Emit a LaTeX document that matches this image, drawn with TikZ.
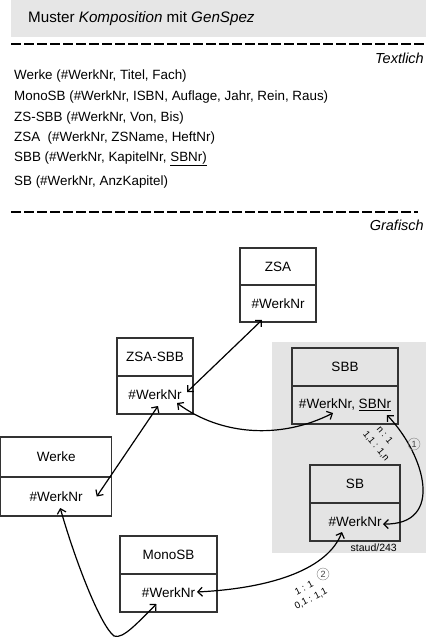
\documentclass[tikz,border=0pt]{standalone}
\usepackage{fontspec}
\setmainfont{Liberation Sans}
\usetikzlibrary{arrows.meta,calc}
\definecolor{boxline}{HTML}{333333}
\definecolor{panel}{HTML}{E4E4E4}
\definecolor{titlegray}{HTML}{E6E6E6}
\begin{document}
\begin{tikzpicture}[x=1pt,y=-1pt,
  ent/.style={draw=boxline, line width=1.3pt, rectangle, inner sep=0pt, outer sep=0pt, anchor=north west, font=\fontsize{13.5}{16}\selectfont, fill=white},
  entb/.style={ent, line width=2.2pt, fill=panel},
  lst/.style={anchor=base west, font=\fontsize{13.4}{15}\selectfont, inner sep=0pt},
  sep/.style={line width=2.6pt, dash pattern=on 9.5pt off 3.5pt},
  sect/.style={anchor=base east, font=\fontsize{14.5}{16}\selectfont\itshape, inner sep=0pt},
  conn/.style={line width=1.2pt, {Straight Barb[length=4.5pt,width=9pt]}-{Straight Barb[length=4.5pt,width=9pt]}},
  card/.style={font=\fontsize{9.5}{10}\selectfont, inner sep=0pt},
  num/.style={draw=gray, circle, inner sep=0pt, minimum size=12pt, font=\fontsize{9}{10}\selectfont, text=darkgray}
]
\useasboundingbox (0,0) rectangle (426,637);
% title
\fill[titlegray] (11,0) rectangle (426,37);
\node[anchor=base west, inner sep=0pt, font=\fontsize{15.2}{17}\selectfont] (title) at (28,23) {Muster \textit{Komposition} mit \textit{GenSpez}};
\draw[sep] (11,44) -- (426,44);
\node[sect] (textlich) at (424,63) {Textlich};
% text list
\node[lst] (l1) at (14,79.5) {Werke (\#WerkNr, Titel, Fach)};
\node[lst] (l2) at (14,100.5) {MonoSB (\#WerkNr, ISBN, Auflage, Jahr, Rein, Raus)};
\node[lst] (l3) at (14,121) {ZS-SBB (\#WerkNr, Von, Bis)};
\node[lst] (l4) at (14,141.5) {ZSA\ \ (\#WerkNr, ZSName, HeftNr)};
\node[lst] (l5) at (14,161.5) {SBB (\#WerkNr, KapitelNr, \underline{SBNr)}};
\node[lst] (l6) at (14,185.5) {SB (\#WerkNr, AnzKapitel)};
\draw[sep] (11,212) -- (418,212);
\node[sect] (grafisch) at (424,230) {Grafisch};
% panel
\fill[panel] (272,342) rectangle (426,553);
\node[anchor=base east, inner sep=0pt, font=\fontsize{10.5}{12}\selectfont] (staud) at (397,551) {staud/243};
% entities
\node[ent, minimum width=76pt, minimum height=37pt] (zsaH) at (240,248) {ZSA};
\node[ent, minimum width=76pt, minimum height=37pt] (zsaA) at (zsaH.south west) {\#WerkNr};
\node[ent, minimum width=76pt, minimum height=38pt] (zsasbbH) at (117,338) {ZSA-SBB};
\node[ent, minimum width=76pt, minimum height=38pt] (zsasbbA) at (zsasbbH.south west) {\#WerkNr};
\node[entb, minimum width=106pt, minimum height=38pt] (sbbH) at (292,348) {SBB};
\node[entb, minimum width=106pt, minimum height=38pt] (sbbA) at (sbbH.south west) {\#WerkNr, \underline{SBNr}};
\node[entb, minimum width=90pt, minimum height=38pt] (sbH) at (310,465) {SB};
\node[entb, minimum width=90pt, minimum height=38pt] (sbA) at (sbH.south west) {\#WerkNr};
\node[ent, minimum width=111pt, minimum height=40pt] (werkeH) at (0.7,437) {Werke};
\node[ent, minimum width=111pt, minimum height=39pt] (werkeA) at (werkeH.south west) {\#WerkNr};
\node[ent, minimum width=97pt, minimum height=38pt] (monoH) at (120,536) {MonoSB};
\node[ent, minimum width=97pt, minimum height=38pt] (monoA) at (monoH.south west) {\#WerkNr};
% connectors
\draw[conn] ($(zsasbbA.east)+(-6,-3)$) -- ($(zsaA.south)+(-16,-2)$);
\draw[conn] ($(zsasbbA.south)+(3,-8)$) -- ($(werkeA.east)+(-15,0)$);
\draw[conn] ($(zsasbbA.east)+(-16,8)$) .. controls (220,435) and (280,440) .. ($(sbbA.south)+(-12,-11)$);
\draw[conn] ($(sbbA.south east)+(-11,-9)$) .. controls (425,455) and (445,525) .. ($(sbA.east)+(-17,2)$);
\draw[conn] ($(sbA.south)+(-13,-9)$) .. controls (328,568) and (275,588) .. ($(monoA.east)+(-20,-1)$);
\draw[conn] ($(werkeA.south)+(4,-8)$) .. controls (75,560) and (100,625) .. (114,636) .. controls (123,640) and (140,620) .. ($(monoA.south)+(-12,-8)$);
% cardinalities
\node[card, rotate=-50] (c1a) at (385,435) {n : 1};
\node[card, rotate=-50] (c1b) at (376,446) {1,1 : 1,n};
\node[num] (n1) at (414,444) {1};
\node[num] (n2) at (323,574) {2};
\node[card, rotate=27] (c2a) at (304,588) {1 : 1};
\node[card, rotate=27] (c2b) at (311,599) {0,1 : 1,1};
\end{tikzpicture}
\end{document}
